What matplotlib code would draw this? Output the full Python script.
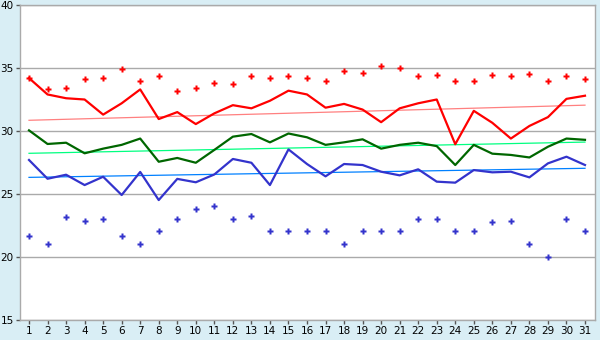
import numpy as np
import matplotlib
matplotlib.use("Agg")
import matplotlib.pyplot as plt

# ----------------------------------------------
# Data
# ----------------------------------------------

days = list(range(1, 32))

t_max = [34.2, 32.9, 32.6, 32.5, 31.3, 32.2, 33.3, 30.95, 31.5, 30.55,
         31.4, 32.05, 31.8, 32.4, 33.2, 32.9, 31.85, 32.15, 31.7, 30.7,
         31.8, 32.2, 32.5, 28.95, 31.6, 30.65, 29.4, 30.4, 31.1, 32.55, 32.8]

t_avg = [30.05, 28.97, 29.07, 28.23, 28.6, 28.9, 29.4, 27.56, 27.86, 27.48,
         28.5, 29.55, 29.76, 29.1, 29.8, 29.5, 28.9, 29.1, 29.34, 28.6,
         28.9, 29.07, 28.8, 27.3, 28.9, 28.2, 28.1, 27.9, 28.75, 29.4, 29.3]

t_min = [27.7, 26.21, 26.53, 25.71, 26.37, 24.92, 26.75, 24.52, 26.2, 25.93,
         26.55, 27.78, 27.48, 25.71, 28.54, 27.38, 26.4, 27.38, 27.3, 26.77,
         26.48, 26.96, 25.98, 25.9, 26.9, 26.72, 26.77, 26.32, 27.43, 27.96, 27.3]

rec_high = [34.2, 33.3, 33.4, 34.1, 34.18, 34.9, 34.0, 34.34, 33.15, 33.4,
            33.78, 33.7, 34.34, 34.18, 34.4, 34.18, 34.0, 34.74, 34.58, 35.13,
            34.97, 34.34, 34.42, 34.0, 34.0, 34.42, 34.34, 34.5, 33.94, 34.34, 34.1]

rec_low = [21.64, 21.0, 23.15, 22.83, 23.0, 21.64, 21.0, 22.04, 23.0, 23.78,
           24.02, 23.0, 23.23, 22.04, 22.04, 22.04, 22.04, 21.0, 22.04, 22.04,
           22.04, 23.0, 23.0, 22.04, 22.04, 22.75, 22.83, 21.0, 20.0, 23.0, 22.04]

# trend lines: value on day 1 and day 31
trend_max = [30.85, 32.05]
trend_avg = [28.23, 29.12]
trend_min = [26.32, 27.04]

yticks = [15, 20, 25, 30, 35, 40]

# ----------------------------------------------
# Plot
# ----------------------------------------------

bg = "#d9eef5"
grid_c = "#aaaaaa"

fig = plt.figure(figsize=(6, 3.4), dpi=100, facecolor=bg)
ax = fig.add_axes([20/600, 1-320/340, 575/600, 315/340])
ax.set_facecolor("white")

for y in yticks:
    ax.axhline(y, color=grid_c, lw=1, zorder=1)

ends = [days[0], days[-1]]
ax.plot(ends, trend_max, color="#ff8080", lw=0.9, zorder=2)
ax.plot(ends, trend_avg, color="#00ff80", lw=0.9, zorder=2)
ax.plot(ends, trend_min, color="#0080ff", lw=0.9, zorder=2)

ax.plot(days, t_max, color="#ff0000", lw=1.6, zorder=3)
ax.plot(days, t_avg, color="#006600", lw=1.6, zorder=3)
ax.plot(days, t_min, color="#3333cc", lw=1.6, zorder=3)

ax.plot(days, rec_high, ls="none", marker="P", ms=4, color="#ff0000", mec="none", zorder=4)
ax.plot(days, rec_low, ls="none", marker="P", ms=4, color="#3333cc", mec="none", zorder=4)

ax.set_xlim(0.514, 31.54)
ax.set_ylim(15, 40)
ax.set_xticks(days)
ax.set_yticks(yticks)

for s in ax.spines.values():
    s.set_color(grid_c)
    s.set_linewidth(1)

ax.tick_params(axis="both", direction="out", length=3, width=1, color="#555555",
               labelsize=7.5, labelcolor="black", pad=1.5)

fig.savefig("out.png", dpi=100, facecolor=bg)
